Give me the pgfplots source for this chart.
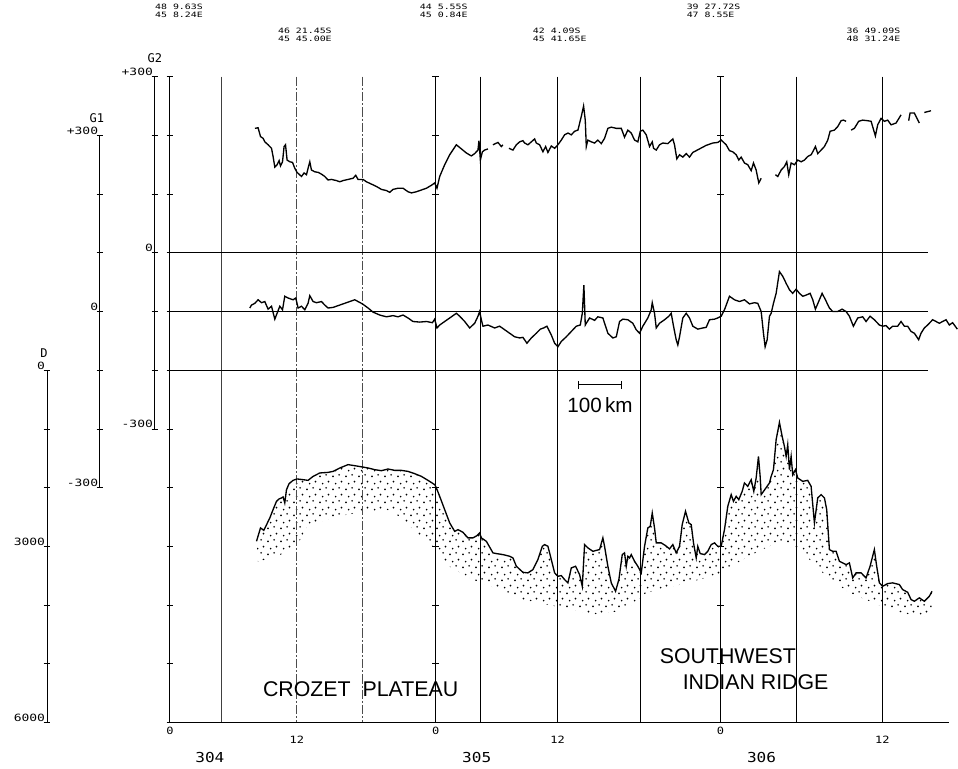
\documentclass[border=0pt]{standalone}
\usepackage{pgfplots}
\pgfplotsset{compat=1.18}
\usepgfplotslibrary{fillbetween}
\usetikzlibrary{patterns.meta}
\usepackage{fontspec}
\setmainfont{Liberation Sans}
\newfontfamily\plotfont{DejaVu Sans Mono}
\newcommand\tickf{\plotfont\fontsize{7.5}{8}\selectfont}
\newcommand\topf{\plotfont\fontsize{5.5}{5.25}\selectfont}
\newcommand\pf[1]{\scalebox{1.3}[1]{\tickf #1}}
\newcommand\tl[2]{\scalebox{1.35}[1]{\topf\begin{tabular}{@{}l@{}}#1\\#2\end{tabular}}}
\newcommand\hr[1]{\scalebox{1.2}[1]{\tickf #1}}
\newcommand\dy[1]{\scalebox{1.17}[1]{\plotfont\fontsize{10.3}{11}\selectfont #1}}

\tikzdeclarepattern{
  name=stipple,
  type=uncolored,
  bounding box={(0pt,0pt) and (10pt,10pt)},
  tile size={(10pt,10pt)},
  code={
    \fill (1.6pt,2.1pt) circle (0.75pt);
    \fill (6.4pt,3.3pt) circle (0.7pt);
    \fill (3.7pt,6.6pt) circle (0.7pt);
    \fill (8.3pt,8.2pt) circle (0.75pt);
  }
}

\pgfplotsset{
  base/.style={at={(0,0)}, anchor=south west, width=718.5pt, height=576.75pt,
    scale only axis, hide axis, xmin=-395.35, xmax=1832.56, clip=false,
    unbounded coords=jump},
}

\pgfplotstableread{
km g1
198 312
205.3 313
210.9 298
217.0 295
220.9 289
228.6 284
236.5 278
240.2 264
244.2 246
249.5 250
254.2 257
257.4 248
262.1 255
265.8 281
269.1 284
272.8 258
279.1 255
285.4 254
290.7 244
296.0 237
306.3 230
312.3 236
317.9 233
321.6 244
325.6 255
329.5 241
337.2 238
344.9 237
352.8 234
360.5 230
368.1 224
376.1 225
387.7 223
395.4 221
403.0 223
414.7 225
426.3 227
432.6 232
437.9 225
449.5 225
457.4 221
469.1 217
480.7 213
492.3 208
504.0 206
511.6 203
519.3 208
530.9 210
542.6 210
554.2 204
562.1 202
573.7 204
585.4 207
597.0 210
608.6 215
616.3 219
621.6 210
627.9 230
639.5 250
651.2 267
666.7 284
678.4 277
690.0 270
701.6 265
709.3 269
717.0 275
719.3 291
722.6 258
727.2 272
732.6 275
740.2 277
745 nan
751.9 284
763.5 288
771.4 281
775.1 284
780 nan
789.1 278
798.4 275
806.3 284
814.0 289
821.6 291
825.6 287
833.3 284
841.2 289
848.8 294
852.8 287
860.5 284
868.2 272
874.4 281
879.8 271
887.7 282
895.4 278
903.0 284
910.9 292
918.6 301
926.3 304
934.2 301
941.9 307
949.6 309
957.4 332
962.8 350
966.7 326
969.1 281
972.8 292
980.7 289
988.4 287
996.0 292
1004.0 286
1011.6 295
1019.3 312
1027.2 314
1038.9 312
1050.5 312
1058.1 297
1065.8 309
1073.7 304
1081.4 292
1089.1 289
1094.7 307
1100.7 309
1108.6 301
1116.3 281
1122.6 289
1125.6 278
1131.9 275
1139.5 284
1147.2 287
1158.8 286
1170.5 294
1174.4 284
1179.8 260
1186.1 267
1193.7 263
1201.6 269
1209.3 263
1217.0 271
1224.9 274
1232.6 277
1248.1 283
1263.5 287
1275.1 288
1283.0 292
1294.6 284
1302.3 274
1310.0 272
1317.9 267
1324.0 258
1329.5 263
1337.2 253
1344.9 250
1352.8 240
1358.2 253
1364.4 241
1370.5 219
1376.1 227
1390 nan
1409.3 233
1414.7 230
1422.6 241
1430.2 247
1435.6 255
1440.2 233
1445.8 253
1453.5 250
1461.2 258
1469.1 255
1476.8 258
1484.4 264
1492.3 267
1496.1 272
1502.3 281
1507.7 269
1515.6 275
1523.3 281
1531.0 292
1536.5 307
1546.5 309
1554.2 315
1562.1 325
1567.5 326
1573.7 324
1580 nan
1585.4 309
1593.0 312
1603.0 324
1612.3 326
1624.0 325
1631.9 324
1641.9 299
1647.2 318
1655.1 329
1662.8 324
1670.5 326
1678.4 318
1690.0 321
1701.6 335
1710 nan
1719.3 325
1722.6 338
1732.6 338
1744.2 321
1750 nan
1755.8 339
1771.4 342
}\GoneTable

\pgfplotstableread{
km g2
186.0 -94
190.0 -89
197.7 -86
205.3 -80
213.3 -85
220.9 -83
228.6 -96
236.5 -91
244.2 -113
249.5 -103
255.8 -91
262.1 -97
267.4 -74
275.1 -77
286.7 -80
293.0 -77
298.4 -94
306.3 -91
314.0 -97
321.6 -86
325.6 -73
333.3 -83
341.2 -85
352.8 -83
360.5 -89
368.1 -94
379.8 -93
391.4 -90
403.0 -87
418.6 -83
430.2 -80
437.9 -83
448.1 -87
461.2 -94
472.8 -101
488.4 -106
504.0 -109
519.3 -107
530.9 -109
542.6 -106
554.2 -111
565.8 -117
581.4 -118
597.0 -117
610.9 -119
616.3 -113
621.6 -128
627.9 -123
639.5 -117
655.1 -109
666.7 -103
674.4 -108
686.1 -117
697.7 -128
709.3 -120
717.0 -108
720.9 -100
724.9 -114
728.6 -125
740.2 -123
755.8 -128
767.4 -125
779.1 -131
790.7 -137
802.3 -143
814.0 -145
821.6 -144
830.9 -154
841.2 -145
852.8 -137
862.1 -130
869.8 -128
877.5 -125
887.7 -140
895.4 -154
903.0 -160
910.9 -151
922.6 -143
934.2 -134
945.8 -125
955.1 -123
959.8 -103
963.5 -55
966.7 -123
969.1 -120
976.8 -111
988.4 -115
996.0 -109
1007.7 -111
1019.3 -137
1030.9 -145
1038.9 -143
1046.5 -117
1054.2 -113
1065.8 -114
1077.4 -120
1085.3 -131
1093.0 -137
1100.7 -125
1112.3 -111
1120.2 -97
1122.6 -85
1127.9 -103
1131.9 -128
1139.5 -120
1151.2 -114
1161.2 -108
1166.7 -103
1172.1 -125
1178.3 -148
1182.1 -157
1186.1 -143
1193.7 -111
1201.6 -103
1209.3 -111
1217.0 -125
1228.6 -130
1240.2 -128
1248.1 -127
1255.8 -114
1267.4 -113
1275.1 -111
1283.0 -108
1290.7 -97
1302.3 -74
1314.0 -80
1325.6 -83
1337.2 -80
1348.8 -87
1360.5 -85
1368.1 -86
1376.1 -100
1381.4 -137
1385.3 -160
1390.0 -148
1395.4 -108
1399.3 -103
1404.7 -86
1410.9 -69
1418.6 -32
1426.3 -40
1434.2 -52
1441.9 -63
1449.5 -69
1457.4 -62
1465.1 -69
1472.8 -74
1480.7 -72
1490.0 -69
1496.1 -80
1502.3 -96
1511.6 -80
1517.9 -69
1525.6 -80
1534.9 -94
1542.6 -100
1554.2 -100
1564.4 -96
1573.7 -100
1581.4 -108
1590.7 -125
1600.7 -111
1612.3 -109
1620.2 -117
1629.5 -108
1639.5 -114
1651.2 -123
1658.8 -125
1666.7 -124
1674.4 -130
1682.1 -125
1693.7 -125
1701.6 -117
1709.3 -125
1717.0 -125
1724.9 -134
1732.6 -137
1742.6 -148
1748.1 -137
1755.8 -128
1763.5 -123
1775.1 -114
1783.0 -117
1790.7 -120
1798.4 -117
1806.3 -114
1814.0 -123
1821.6 -119
1832.6 -130
}\GtwoTable

\pgfplotstableread{
km d
201.6 2914
210.9 2686
218.6 2727
232.6 2516
240.2 2374
248.1 2233
254.2 2192
259.8 2175
263.5 2158
267.4 2260
271.4 2034
277.4 1932
286.7 1876
296.0 1852
310.0 1864
321.6 1876
333.3 1808
348.8 1750
368.1 1740
379.8 1723
395.4 1665
414.7 1608
430.2 1626
448.1 1648
461.2 1665
476.7 1694
492.3 1711
507.7 1682
523.3 1706
538.8 1706
554.2 1723
569.8 1762
585.4 1808
600.7 1876
616.3 1949
620.2 2005
627.9 2148
639.5 2374
651.2 2601
662.8 2744
670.5 2715
682.1 2761
693.7 2856
705.3 2856
714.7 2817
720.9 2771
724.9 2856
736.5 2914
751.9 3111
759.8 3123
775.1 3140
790.7 3169
798.4 3197
806.3 3339
821.6 3442
833.3 3452
844.9 3396
856.5 3225
866.7 2999
872.1 2970
879.8 2999
887.7 3225
895.4 3452
903.0 3510
910.9 3498
918.6 3566
926.3 3622
934.2 3367
944.2 3339
953.5 3481
959.8 3680
965.1 2970
972.8 3026
984.4 3084
1000.0 3055
1007.7 2856
1011.6 2999
1019.3 3339
1027.2 3622
1037.2 3765
1044.9 3566
1052.8 3140
1058.1 3111
1062.1 3339
1065.8 3169
1069.8 3197
1073.7 3140
1081.4 3254
1089.1 3339
1097.0 3452
1104.7 2999
1112.3 2686
1117.9 2659
1122.6 2431
1127.9 2686
1131.9 2941
1143.5 2941
1153.5 2987
1162.8 3043
1170.5 2970
1178.3 3111
1186.1 2999
1192.3 2630
1200.0 2403
1207.7 2601
1213.3 2630
1218.6 2941
1224.9 3197
1228.6 2999
1234.2 3123
1244.2 3140
1251.9 3084
1259.8 2970
1267.4 2941
1275.1 2999
1283.0 2999
1290.7 2715
1298.4 2318
1306.3 2119
1311.6 2233
1317.9 2148
1324.0 2204
1331.9 2063
1337.2 1920
1344.9 1978
1352.8 1864
1358.9 2063
1364.4 1835
1369.8 1467
1373.7 1808
1376.1 2119
1395.4 1920
1399.3 1808
1404.7 1694
1410.9 1183
1418.6 888
1424.9 1127
1430.2 1297
1434.2 1467
1437.9 1268
1441.9 1694
1445.8 1467
1449.5 1779
1455.8 1694
1461.2 1835
1472.8 1893
1484.4 1876
1492.3 1978
1500.0 2601
1507.7 2175
1515.6 2119
1523.3 2175
1528.6 2374
1534.9 3055
1542.6 3084
1550.5 3084
1558.1 3254
1565.8 3282
1573.7 3311
1581.4 3282
1589.1 3537
1597.0 3452
1608.6 3452
1620.2 3537
1629.5 3339
1639.5 3055
1644.9 3339
1651.2 3622
1658.8 3680
1670.5 3634
1682.1 3622
1697.7 3651
1705.3 3736
1717.0 3782
1724.9 3906
1732.6 3935
1744.2 3877
1755.8 3935
1767.4 3850
1773.7 3765
}\DtopTable

\pgfplotstableread{
km d
204.7 3260
248.8 3174
295.3 3004
318.6 2664
365.1 2545
411.6 2460
458.1 2408
504.7 2374
534.9 2494
574.4 2766
611.6 3004
651.2 3345
704.7 3566
767.4 3736
820.9 3906
876.8 3991
937.2 4077
983.7 4162
1039.5 4111
1069.8 4025
1109.3 3787
1169.8 3685
1232.6 3566
1286.0 3447
1332.6 3225
1379.1 3055
1411.6 2936
1441.9 3004
1472.1 3106
1504.7 3345
1534.9 3566
1581.4 3787
1634.9 3957
1674.4 4077
1720.9 4162
1772.1 4213
}\DbotTable

\begin{document}
\begin{tikzpicture}
\path (0pt,0pt) rectangle (718.5pt,576.75pt);

% ---------- frame, scales and labels (G2 units) ----------
\begin{axis}[base, ymin=-878.30, ymax=430.64]
  % vertical time lines
  \draw[line width=0.5pt, black!75] (axis cs:120.9,300) -- (axis cs:120.9,-800);
  \draw[line width=0.5pt, black!70, dash pattern=on 7pt off 1.5pt on 1.5pt off 1.5pt] (axis cs:295.3,300) -- (axis cs:295.3,-800);
  \draw[line width=0.5pt, black!70, dash pattern=on 7pt off 1.5pt on 1.5pt off 1.5pt] (axis cs:448.8,300) -- (axis cs:448.8,-800);
  \pgfplotsinvokeforeach{618.6,723.3,902.3,1095.3,1281.4,1458.1,1658.1}{
    \draw[line width=0.7pt] (axis cs:#1,300) -- (axis cs:#1,-800);
  }
  % frame line and horizontal lines
  \draw[line width=0.8pt] (axis cs:0,300) -- (axis cs:0,-800);
  \draw[line width=0.8pt] (axis cs:0,0) -- (axis cs:1765,0);
  \draw[line width=0.8pt] (axis cs:0,-100) -- (axis cs:1765,-100);
  \draw[line width=0.8pt] (axis cs:0,-200) -- (axis cs:1765,-200);
  \draw[line width=0.8pt] (axis cs:0,-800) -- (axis cs:1814,-800);
  % ticks on frame line and on the 0h lines
  \pgfplotsinvokeforeach{300,200,100,0,-100,-200,-300,-400,-500,-600,-700,-800}{
    \draw[line width=0.6pt] ([xshift=-2.5pt]axis cs:0,#1) -- ([xshift=2.5pt]axis cs:0,#1);
    \draw[line width=0.6pt] ([xshift=-2.5pt]axis cs:618.6,#1) -- ([xshift=2.5pt]axis cs:618.6,#1);
    \draw[line width=0.6pt] ([xshift=-2.5pt]axis cs:1281.4,#1) -- ([xshift=2.5pt]axis cs:1281.4,#1);
  }
  % G2 scale
  \draw[line width=0.7pt] (axis cs:-34.9,300) -- (axis cs:-34.9,-300);
  \pgfplotsinvokeforeach{300,200,100,0,-100,-200,-300}{
    \draw[line width=0.6pt] ([xshift=-2.5pt]axis cs:-34.9,#1) -- ([xshift=2.5pt]axis cs:-34.9,#1);
  }
  % G1 scale (G1 = G2 + 100)
  \draw[line width=0.7pt] (axis cs:-162.8,200) -- (axis cs:-162.8,-400);
  \pgfplotsinvokeforeach{200,100,0,-100,-200,-300,-400}{
    \draw[line width=0.6pt] ([xshift=-2.5pt]axis cs:-162.8,#1) -- ([xshift=2.5pt]axis cs:-162.8,#1);
  }
  % D scale
  \draw[line width=0.7pt] (axis cs:-286,-200) -- (axis cs:-286,-800);
  \pgfplotsinvokeforeach{-200,-300,-400,-500,-600,-700,-800}{
    \draw[line width=0.6pt] ([xshift=-2.5pt]axis cs:-286,#1) -- ([xshift=2.5pt]axis cs:-286,#1);
  }
  % scale labels
  \node[anchor=south east, inner sep=0.6pt] at (axis cs:-164.5,200) {\pf{+300}};
  \node[anchor=south east, inner sep=0.6pt] at (axis cs:-164.5,-100) {\pf{0}};
  \node[anchor=south east, inner sep=0.6pt] at (axis cs:-164.5,-400) {\pf{-300}};
  \node[anchor=south east, inner sep=0.6pt] at (axis cs:-37,300) {\pf{+300}};
  \node[anchor=south east, inner sep=0.6pt] at (axis cs:-37,0) {\pf{0}};
  \node[anchor=south east, inner sep=0.6pt] at (axis cs:-37,-300) {\pf{-300}};
  \node[anchor=south east, inner sep=0.6pt] at (axis cs:-288,-200) {\pf{0}};
  \node[anchor=south east, inner sep=0.6pt] at (axis cs:-288,-500) {\pf{3000}};
  \node[anchor=south east, inner sep=0.6pt] at (axis cs:-288,-800) {\pf{6000}};
  \node[inner sep=0pt, font=\plotfont\fontsize{9}{10}\selectfont] at (axis cs:-169.8,229.8) {G1};
  \node[inner sep=0pt, font=\plotfont\fontsize{9}{10}\selectfont] at (axis cs:-34.9,331.9) {G2};
  \node[inner sep=0pt, font=\plotfont\fontsize{9}{10}\selectfont] at (axis cs:-293,-170.2) {D};
  % time labels
  \node[inner sep=0pt] at (axis cs:0,-815) {\hr{0}};
  \node[inner sep=0pt] at (axis cs:295.3,-830) {\hr{12}};
  \node[inner sep=0pt] at (axis cs:618.6,-815) {\hr{0}};
  \node[inner sep=0pt] at (axis cs:902.3,-830) {\hr{12}};
  \node[inner sep=0pt] at (axis cs:1281.4,-815) {\hr{0}};
  \node[inner sep=0pt] at (axis cs:1658.1,-830) {\hr{12}};
  \node[inner sep=0pt] at (axis cs:93,-860) {\dy{304}};
  \node[inner sep=0pt] at (axis cs:714,-860) {\dy{305}};
  \node[inner sep=0pt] at (axis cs:1377,-860) {\dy{306}};
  % positions
  \node[anchor=north west, inner sep=0pt] at (axis cs:-34.9,423.8) {\tl{48 9.63S}{45  8.24E}};
  \node[anchor=north west, inner sep=0pt] at (axis cs:581.4,423.8) {\tl{44 5.55S}{45  0.84E}};
  \node[anchor=north west, inner sep=0pt] at (axis cs:1202.3,423.8) {\tl{39 27.72S}{47  8.55E}};
  \node[anchor=north west, inner sep=0pt] at (axis cs:251.2,383) {\tl{46 21.45S}{45 45.00E}};
  \node[anchor=north west, inner sep=0pt] at (axis cs:844.2,383) {\tl{42 4.09S}{45 41.65E}};
  \node[anchor=north west, inner sep=0pt] at (axis cs:1574.4,383) {\tl{36 49.09S}{48 31.24E}};
  % scale bar
  \draw[line width=1pt] (axis cs:951.2,-224.7) -- (axis cs:1051.2,-224.7);
  \draw[line width=1pt] ([yshift=-3pt]axis cs:951.2,-224.7) -- ([yshift=3pt]axis cs:951.2,-224.7);
  \draw[line width=1pt] ([yshift=-3pt]axis cs:1051.2,-224.7) -- ([yshift=3pt]axis cs:1051.2,-224.7);
  \node[anchor=base, inner sep=0pt, font=\fontsize{15.5}{16}\selectfont] at (axis cs:1001,-272.3) {100\,km};
  % region names
  \node[anchor=base west, inner sep=0pt, font=\fontsize{16}{18}\selectfont] at (axis cs:216.3,-755.7) {CROZET\ \ PLATEAU};
  \node[anchor=base west, inner sep=0pt, font=\fontsize{16}{18}\selectfont] at (axis cs:1139.5,-699.6) {SOUTHWEST};
  \node[anchor=base west, inner sep=0pt, font=\fontsize{16}{18}\selectfont] at (axis cs:1193,-743.8) {INDIAN RIDGE};
  % G2 curve
  \addplot[black, line width=1pt] table[x=km, y=g2] {\GtwoTable};
\end{axis}

% ---------- G1 ----------
\begin{axis}[base, ymin=-778.30, ymax=530.64]
  \addplot[black, line width=1pt] table[x=km, y=g1] {\GoneTable};
\end{axis}

% ---------- D (depth, m) ----------
\begin{axis}[base, y dir=reverse, ymin=-6306.4, ymax=6783.0]
  \addplot[name path=dbot, draw=none] table[x=km, y=d] {\DbotTable};
  \addplot[name path=dtop, black, line width=1pt] table[x=km, y=d] {\DtopTable};
  \addplot[pattern=stipple, pattern color=black] fill between[of=dtop and dbot];
\end{axis}
\end{tikzpicture}
\end{document}
